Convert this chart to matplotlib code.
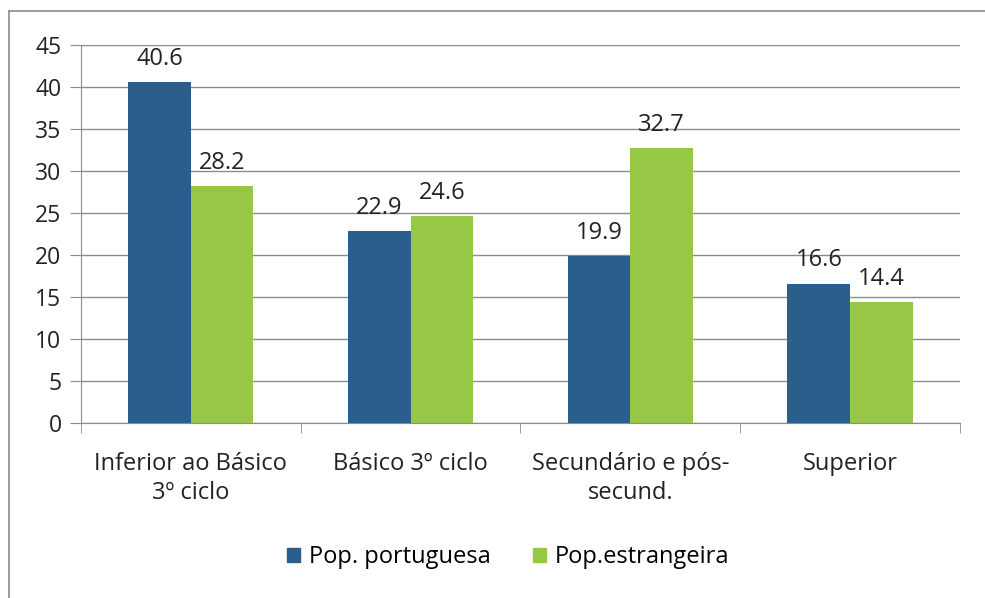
import matplotlib.pyplot as plt
import numpy as np
from matplotlib.patches import Patch

categories = ["Inferior ao Básico\n3º ciclo", "Básico 3º ciclo",
              "Secundário e pós-\nsecund.", "Superior"]
pop_portuguesa = [40.6, 22.9, 19.9, 16.6]
pop_estrangeira = [28.2, 24.6, 32.7, 14.4]
series_names = ["Pop. portuguesa", "Pop.estrangeira"]

blue = "#2a5e8c"
green = "#97c845"
FS = 17


def main():
    plt.rcParams['font.family'] = ['Open Sans', 'DejaVu Sans']
    fig = plt.figure(figsize=(9.85, 5.98), dpi=100)
    ax = fig.add_axes([0.0822, 0.2926, 0.8924, 0.6321])

    x = np.arange(len(categories))
    w = 0.285
    b1 = ax.bar(x - w / 2, pop_portuguesa, w, color=blue, zorder=3)
    b2 = ax.bar(x + w / 2, pop_estrangeira, w, color=green, zorder=3)

    for bars, vals in ((b1, pop_portuguesa), (b2, pop_estrangeira)):
        for r, v in zip(bars, vals):
            ax.annotate(f"{v:.1f}", (r.get_x() + r.get_width() / 2, v),
                        xytext=(0, 8), textcoords="offset points",
                        ha="center", va="bottom", fontsize=FS,
                        color="#222222")

    ax.set_xlim(-0.5, len(categories) - 0.5)
    ax.set_ylim(0, 45)
    ax.set_yticks(range(0, 46, 5))
    ax.yaxis.grid(True, color="#8c8c8c", linewidth=1, zorder=0)
    ax.set_xticks(x)
    ax.set_xticklabels(categories, fontsize=FS, color="#222222",
                       linespacing=1.25)
    ax.set_xticks(np.arange(-0.5, len(categories), 1), minor=True)
    ax.tick_params(axis="x", which="major", length=0, pad=21)
    ax.tick_params(axis="x", which="minor", length=7, color="#8c8c8c")
    ax.tick_params(axis="y", length=8, color="#8c8c8c", labelsize=16.5,
                   labelcolor="#222222", pad=6)
    for s in ("top", "right"):
        ax.spines[s].set_visible(False)
    for s in ("left", "bottom"):
        ax.spines[s].set_color("#8c8c8c")

    handles = [Patch(color=blue), Patch(color=green)]
    fig.legend(handles, series_names, loc="center", ncol=2,
               bbox_to_anchor=(0.516, 0.068), frameon=False, fontsize=FS,
               handlelength=0.55, handleheight=0.55, handletextpad=0.4,
               columnspacing=1.75)

    # outer frame (only left and top visible in reference)
    fig.add_artist(plt.Line2D([0.0091, 0.0091], [0, 0.9816],
                              transform=fig.transFigure, color="#8c8c8c",
                              linewidth=1.2))
    fig.add_artist(plt.Line2D([0.0091, 1], [0.9816, 0.9816],
                              transform=fig.transFigure, color="#8c8c8c",
                              linewidth=1.2))

    plt.savefig("out.png")


if __name__ == "__main__":
    main()
